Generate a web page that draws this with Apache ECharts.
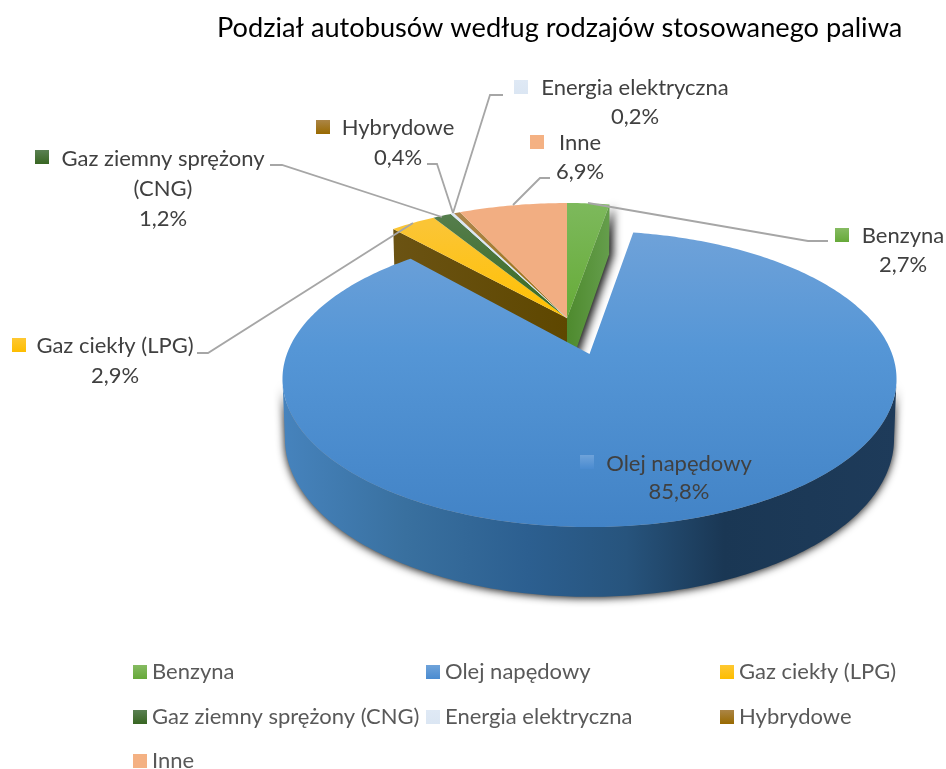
<!DOCTYPE html>
<html><head><meta charset="utf-8">
<style>html,body{margin:0;padding:0;background:#fff}#c{width:946px;height:769px}</style>
<script src="https://cdn.jsdelivr.net/npm/echarts@6/dist/echarts.min.js"></script></head>
<body><div id="c"></div>
<script>
var categories = ['Benzyna','Olej napędowy','Gaz ciekły (LPG)','Gaz ziemny sprężony (CNG)','Energia elektryczna','Hybrydowe','Inne'];
var values = [2.7, 85.8, 2.9, 1.2, 0.2, 0.4, 6.9];
var chartTitle = 'Podział autobusów według rodzajów stosowanego paliwa';

var FONT = 'Lato, Carlito, sans-serif';
var total = values.reduce(function(a,b){return a+b;},0);
var starts = []; values.reduce(function(a,v,i){starts[i]=a;return a+v;},0);
var K = 0.169;
var mainDisc = {cx:567, cy:318, A:294, B:134.4, D:58};
var explDisc = {cx:589.5, cy:354, A:302.6, B:143.8, D:58};

function grad(x,y,x2,y2,stops){
  return {type:'linear',x:x,y:y,x2:x2,y2:y2,global:true,
    colorStops:stops.map(function(s){return {offset:s[0],color:s[1]};})};
}
var legendFill = [
  ['#86bb62','#66a939'],['#6fa3da','#4a8bd0'],['#fec832','#fdbd00'],['#5a8052','#386622'],
  ['#dfe9f5','#dbe6f3'],['#ab8546','#996a00'],['#f4b183','#f4b183']
];
var topFill = [
  grad(0,203,0,318,[[0,'#7db95c'],[1,'#66ab38']]),
  grad(0,231,0,527,[[0,'#6fa2d9'],[0.4,'#5596d6'],[1,'#4283c6']]),
  grad(0,225,0,318,[[0,'#fbc535'],[1,'#ffc000']]),
  grad(0,212,0,318,[[0,'#567e4e'],[1,'#38691f']]),
  '#dce7f4',
  grad(0,210,0,318,[[0,'#ae8850'],[1,'#996a00']]),
  '#f2ae82'
];
/* key square, text centre, line y-positions, leader polyline */
var labelLayout = [
  {key:[835,228], cx:903, ys:[236,265], lead:[[588,203],[808,241],[828,241]]},
  {key:[580,455], cx:679, ys:[464,492], lead:null},
  {key:[12,338], cx:115, ys:[346,376], lead:[[197,353],[208,353],[413,223]]},
  {key:[35,150], cx:163, ys:[159,189,219], lines:['Gaz ziemny sprężony','(CNG)'], lead:[[270,165],[282,165],[442,217]]},
  {key:[514,80], cx:635, ys:[88,117], lead:[[503,95],[490,95],[453,213]]},
  {key:[316,120], cx:398, ys:[128,158], lead:[[427,164],[437,164],[453,213]]},
  {key:[530,135], cx:580, ys:[143,172], lead:[[550,178],[540,178],[513,205]]}
];
function pt(d,theta,bottom){
  var s=Math.sin(theta), y=-Math.cos(theta), w=1-K*y;
  return [d.cx+(bottom?0.992:1)*d.A*s/w, d.cy+d.B*y/w+(bottom?d.D/w:0)];
}
function arc(d,a0,a1,bottom){
  var n=Math.max(2,Math.ceil(Math.abs(a1-a0)/0.015)), r=[];
  for(var i=0;i<=n;i++) r.push(pt(d,a0+(a1-a0)*i/n,bottom));
  return r;
}
function renderSlice(params, api){
  var idx = api.value(1), val = api.value(0);
  var d = idx===1 ? explDisc : mainDisc;
  var a0 = starts[idx]/total*2*Math.PI, a1 = a0+val/total*2*Math.PI;
  var kids = [];
  var apex=[d.cx,d.cy], apexB=[d.cx,d.cy+d.D];
  if(idx===0){
    var e=pt(d,a1,false), eb=pt(d,a1,true);
    kids.push({type:'polygon',shape:{points:[apex,e,eb,apexB]},
      style:{fill:grad(567,0,610,0,[[0,'#4e8a2e'],[1,'#659e4c']]),shadowBlur:9,shadowOffsetX:4,shadowOffsetY:1,shadowColor:'rgba(0,0,0,0.9)'}});
  }
  if(idx===2){
    var s=pt(d,a0,false), sb=pt(d,a0,true);
    kids.push({type:'polygon',shape:{points:[apex,s,sb,apexB]},
      style:{fill:grad(393,0,567,0,[[0,'#6b5313'],[1,'#5e4700']])}});
  }
  if(idx===1){
    /* only the part of the rim that faces the viewer: between the ellipse's side tangents */
    var t=Math.acos(-K), w0=Math.max(a0,t), w1=Math.min(a1,2*Math.PI-t);
    var top=arc(d,w0,w1,false), bot=arc(d,w0,w1,true).reverse();
    kids.push({type:'polygon',shape:{points:top.concat(bot)},
      style:{fill:grad(283,0,896,0,[[0,'#4683bd'],[0.2,'#39709f'],[0.4,'#2c5f90'],[0.56,'#27547d'],[0.72,'#1a3754'],[1,'#1e3b5a']]),
        shadowBlur:9,shadowOffsetY:1,shadowColor:'rgba(0,0,0,0.95)'}});
  }
  kids.push({type:'polygon',shape:{points:[apex].concat(arc(d,a0,a1,false))},
    style:{fill:topFill[idx],stroke:idx===4?topFill[idx]:null,lineWidth:idx===4?1:0}});
  var L = labelLayout[idx];
  if(L.lead){
    kids.push({type:'polyline',z2:20,shape:{points:L.lead},style:{stroke:'#a6a6a6',lineWidth:1.8,fill:null}});
  }
  kids.push({type:'rect',z2:21,shape:{x:L.key[0],y:L.key[1],width:14,height:14},
    style:{fill:grad(0,L.key[1],0,L.key[1]+14,[[0,legendFill[idx][0]],[1,legendFill[idx][1]]])}});
  var lines=(L.lines||[categories[idx]]).concat([val.toFixed(1).replace('.',',')+'%']);
  lines.forEach(function(t,i){
    kids.push({type:'text',z2:22,style:{text:t,x:L.cx,y:L.ys[i],align:'center',verticalAlign:'middle',
      fill:'#404040',font:'22px '+FONT}});
  });
  return {type:'group',children:kids};
}
var series = categories.map(function(name,i){
  return {type:'custom',name:name,coordinateSystem:'none',z:i===1?3:2,silent:true,
    renderItem:renderSlice,data:[[values[i],i]],
    itemStyle:{color:grad(0,0,0,1,[[0,legendFill[i][0]],[1,legendFill[i][1]]])}};
});
series.forEach(function(s){ s.itemStyle.color.global=false; });
function legendCol(left,top,names){
  return {left:left,top:top,orient:'vertical',data:names,itemWidth:14,itemHeight:14,itemGap:23,padding:0,
    selectedMode:false,icon:'rect',textStyle:{color:'#595959',fontFamily:FONT,fontSize:22,padding:[2,0,0,0]}};
}
var chart = echarts.init(document.getElementById('c'),null,{renderer:'canvas'});
chart.setOption({
  animation:false,
  backgroundColor:'#fff',
  title:{text:chartTitle,left:217,top:15,padding:0,textStyle:{fontFamily:FONT,fontWeight:'normal',fontSize:27.2,color:'#000'}},
  legend:[
    legendCol(133,661,[categories[0],categories[3]]),
    legendCol(133,750,[categories[6]]),
    legendCol(426,661,[categories[1],categories[4]]),
    legendCol(720,661,[categories[2],categories[5]])
  ],
  series:series
});
</script></body></html>
